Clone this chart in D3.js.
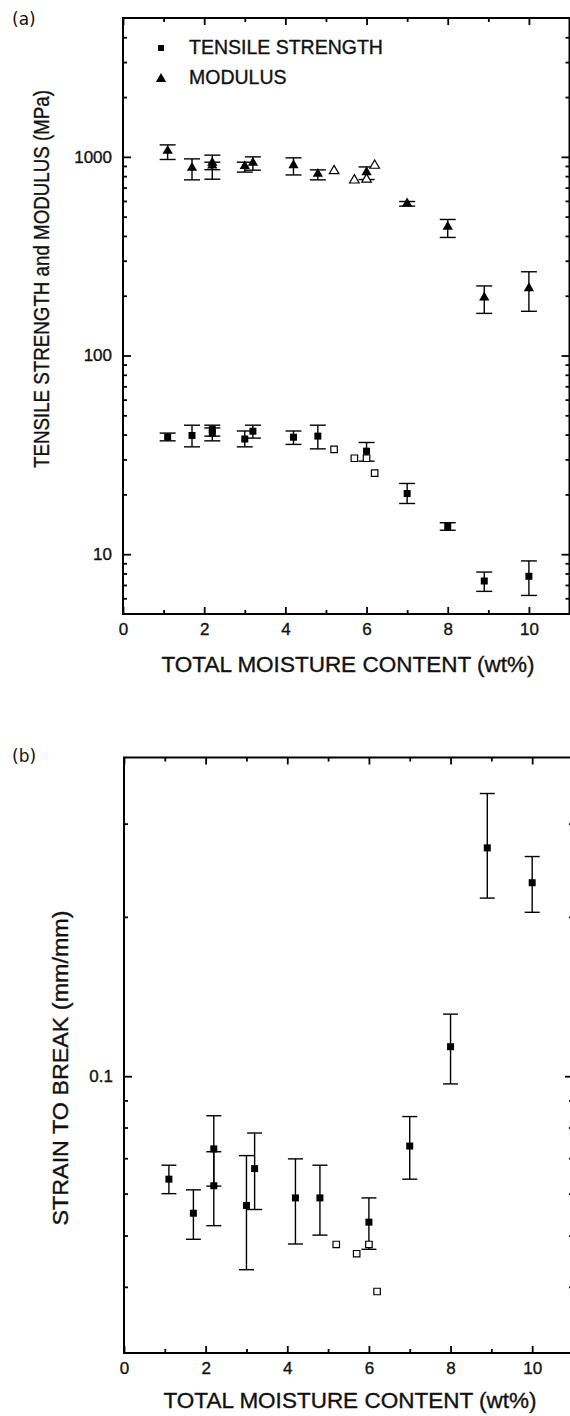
<!DOCTYPE html>
<html>
<head>
<meta charset="utf-8">
<script src="https://cdn.jsdelivr.net/npm/d3@7"></script>
<style>
  body { margin: 0; background: #fff; }
  svg text { font-family: "Liberation Sans", Arial, sans-serif; fill: #111; stroke: #111; stroke-width: 0.35px; }
</style>
</head>
<body>
<script>
// ---- data ----
// filled points (with error bars), x = total moisture content (wt%)
const moisture = [1.1, 1.7, 2.2, 2.2, 3.0, 3.2, 4.2, 4.8, 6.0, 7.0, 8.0, 8.9, 10.0];
// open points (no error bars)
const moistureOpen = [5.2, 5.7, 6.0, 6.2];

const tensile   = [38.9, 39.6, 42.4, 40.7, 38.0, 41.6, 38.8, 39.3, 33.0, 20.2, 13.8, 7.33, 7.74];
const tensileLo = [37.2, 34.7, 39.3, 37.2, 34.7, 38.4, 35.7, 33.9, 29.4, 18.0, 13.2, 6.5, 6.2];
const tensileHi = [40.7, 44.6, 44.6, 43.2, 41.7, 44.6, 41.7, 44.6, 36.5, 22.7, 14.4, 8.13, 9.25];
const tensileOpen = [33.7, 30.4, 30.4, 25.6];

const modulus   = [1072, 880, 935, 905, 898, 933, 908, 821, 837, 582, 445, 196, 218];
const modulusLo = [970, 766, 862, 772, 838, 857, 811, 766, 769, 565, 393, 163, 167];
const modulusHi = [1149, 977, 1020, 940, 940, 1000, 989, 860, 890, 596, 484, 224, 264];
const modulusOpen = [850, 763, 770, 905];

const strain   = [0.0639, 0.0551, 0.0729, 0.0621, 0.0570, 0.0669, 0.0589, 0.0589, 0.0530, 0.0738, 0.1137, 0.270, 0.232];
const strainLo = [0.0600, 0.0492, 0.0620, 0.0522, 0.0431, 0.0560, 0.0482, 0.0501, 0.0471, 0.0639, 0.0967, 0.217, 0.204];
const strainHi = [0.0679, 0.0610, 0.0842, 0.0720, 0.0708, 0.0781, 0.0698, 0.0679, 0.0589, 0.0839, 0.131, 0.342, 0.260];
const strainOpen = [0.0481, 0.0462, 0.0481, 0.0392];

// ticks
const xMajor = [0, 2, 4, 6, 8, 10];
const xMinor = [1, 3, 5, 7, 9];
const yMajorA = [10, 100, 1000];
const yMajorB = [0.1];
const legendLabels = ['TENSILE STRENGTH', 'MODULUS'];

// ---- setup ----
const svg = d3.select('body').append('svg')
  .attr('width', 570)
  .attr('height', 1416);

const xA = d3.scaleLinear().domain([0, 11]).range([123, 569.5]);
const yA = d3.scaleLog().domain([5, 5000]).range([614, 18]);

const xB = d3.scaleLinear().domain([0, 11]).range([124, 573]);
const yB = d3.scaleLog().domain([0.03, 0.4]).range([1353, 757.5]);

drawFrame(svg.append('g'), xA, yA, yMajorA, d3.format('d'));
drawFrame(svg.append('g'), xB, yB, yMajorB, d3.format('.1f'));

// panel (a)
drawErrors(svg.append('g'), xA, yA, moisture, tensileLo, tensileHi, 8);
drawErrors(svg.append('g'), xA, yA, moisture, modulusLo, modulusHi, 8);
drawPoints(svg.append('g'), xA, yA, moisture, tensile, d3.symbolSquare, 49, true);
drawPoints(svg.append('g'), xA, yA, moistureOpen, tensileOpen, d3.symbolSquare, 42, false);
drawPoints(svg.append('g'), xA, yA, moisture, modulus, d3.symbolTriangle, 46, true);
drawPoints(svg.append('g'), xA, yA, moistureOpen, modulusOpen, d3.symbolTriangle, 40, false);

// panel (b)
drawErrors(svg.append('g'), xB, yB, moisture, strainLo, strainHi, 7.5);
drawPoints(svg.append('g'), xB, yB, moisture, strain, d3.symbolSquare, 49, true);
drawPoints(svg.append('g'), xB, yB, moistureOpen, strainOpen, d3.symbolSquare, 42, false);

// legend
const legend = svg.append('g');
legend.selectAll('path')
  .data([d3.symbolSquare, d3.symbolTriangle])
  .enter().append('path')
    .attr('transform', (d, i) => `translate(161, ${48 + i * 31})`)
    .attr('d', (d, i) => d3.symbol(d, i ? 46 : 36)())
    .attr('fill', '#000');
legend.selectAll('text')
  .data(legendLabels)
  .enter().append('text')
    .attr('x', 189)
    .attr('y', (d, i) => 54 + i * 30)
    .style('font-size', '19.5px')
    .text(d => d);

// axis titles
svg.append('text')
  .attr('x', 348).attr('y', 672)
  .attr('text-anchor', 'middle')
  .style('font-size', '22.5px')
  .text('TOTAL MOISTURE CONTENT (wt%)');
svg.append('text')
  .attr('x', 350).attr('y', 1408)
  .attr('text-anchor', 'middle')
  .style('font-size', '22.5px')
  .text('TOTAL MOISTURE CONTENT (wt%)');

svg.append('text')
  .attr('transform', 'translate(49, 279) rotate(-90)')
  .attr('text-anchor', 'middle')
  .attr('textLength', 378)
  .attr('lengthAdjust', 'spacingAndGlyphs')
  .style('font-size', '22px')
  .text('TENSILE STRENGTH and MODULUS (MPa)');
svg.append('text')
  .attr('transform', 'translate(68, 1068) rotate(-90)')
  .attr('text-anchor', 'middle')
  .attr('textLength', 315)
  .attr('lengthAdjust', 'spacingAndGlyphs')
  .style('font-size', '22px')
  .text('STRAIN TO BREAK (mm/mm)');

// panel letters
svg.append('text').attr('x', 12).attr('y', 25)
  .style('font-family', '"DejaVu Sans", sans-serif').style('font-size', '17px')
  .style('stroke-width', 0)
  .text('(a)');
svg.append('text').attr('x', 12).attr('y', 762)
  .style('font-family', '"DejaVu Sans", sans-serif').style('font-size', '17px')
  .style('stroke-width', 0)
  .text('(b)');

/**
 * Box frame with inward ticks on all four sides; labels only bottom and left.
 */
function drawFrame(g, x, y, yMajor, fmt) {
  const [x0, x1] = x.range();
  const [y0, y1] = y.range();
  const isMajor = v => yMajor.some(m => Math.abs(m - v) < 1e-9);
  const yMinor = y.ticks().filter(v => !isMajor(v) && v > y.domain()[0] && v < y.domain()[1]);

  // bottom
  g.append('g').attr('transform', `translate(0,${y0})`)
    .call(d3.axisBottom(x).tickValues(xMajor).tickSizeInner(-7).tickSizeOuter(0)
      .tickPadding(9).tickFormat(d3.format('d')));
  g.append('g').attr('transform', `translate(0,${y0})`)
    .call(d3.axisBottom(x).tickValues(xMinor).tickSizeInner(-4).tickSizeOuter(0).tickFormat(''));
  // top
  g.append('g').attr('transform', `translate(0,${y1})`)
    .call(d3.axisTop(x).tickValues(xMajor).tickSizeInner(-7).tickSizeOuter(0).tickFormat(''));
  g.append('g').attr('transform', `translate(0,${y1})`)
    .call(d3.axisTop(x).tickValues(xMinor).tickSizeInner(-4).tickSizeOuter(0).tickFormat(''));
  // left
  g.append('g').attr('transform', `translate(${x0},0)`)
    .call(d3.axisLeft(y).tickValues(yMajor).tickSizeInner(-8).tickSizeOuter(0)
      .tickPadding(11).tickFormat(fmt));
  g.append('g').attr('transform', `translate(${x0},0)`)
    .call(d3.axisLeft(y).tickValues(yMinor).tickSizeInner(-4).tickSizeOuter(0).tickFormat(''));
  // right
  g.append('g').attr('transform', `translate(${x1},0)`)
    .call(d3.axisRight(y).tickValues(yMajor).tickSizeInner(-8).tickSizeOuter(0).tickFormat(''));
  g.append('g').attr('transform', `translate(${x1},0)`)
    .call(d3.axisRight(y).tickValues(yMinor).tickSizeInner(-4).tickSizeOuter(0).tickFormat(''));

  g.selectAll('.domain').remove();
  g.selectAll('.tick line').attr('stroke', '#000').attr('stroke-width', 1.8);
  g.selectAll('.tick text')
    .style('font-family', '"Liberation Sans", Arial, sans-serif')
    .style('font-size', '17px')
    .attr('fill', '#111');

  g.append('rect')
    .attr('x', x0).attr('y', y1)
    .attr('width', x1 - x0).attr('height', y0 - y1)
    .attr('fill', 'none')
    .attr('stroke', '#000')
    .attr('stroke-width', 2);
}

function drawErrors(g, x, y, xs, lo, hi, cap) {
  const rows = xs.map((d, i) => ({x: d, lo: lo[i], hi: hi[i]}));
  const bars = g.selectAll('g').data(rows).enter().append('g')
    .attr('stroke', '#000').attr('stroke-width', 1.4);
  bars.append('line')
    .attr('x1', d => x(d.x)).attr('x2', d => x(d.x))
    .attr('y1', d => y(d.lo)).attr('y2', d => y(d.hi));
  bars.append('line')
    .attr('x1', d => x(d.x) - cap).attr('x2', d => x(d.x) + cap)
    .attr('y1', d => y(d.lo)).attr('y2', d => y(d.lo));
  bars.append('line')
    .attr('x1', d => x(d.x) - cap).attr('x2', d => x(d.x) + cap)
    .attr('y1', d => y(d.hi)).attr('y2', d => y(d.hi));
}

function drawPoints(g, x, y, xs, ys, type, size, filled) {
  g.selectAll('path')
    .data(xs.map((d, i) => [d, ys[i]]))
    .enter().append('path')
      .attr('transform', d => `translate(${x(d[0])}, ${y(d[1])})`)
      .attr('d', d3.symbol(type, size)())
      .attr('fill', filled ? '#000' : '#fff')
      .attr('stroke', '#000')
      .attr('stroke-width', filled ? 0 : 1.2);
}
</script>
</body>
</html>
